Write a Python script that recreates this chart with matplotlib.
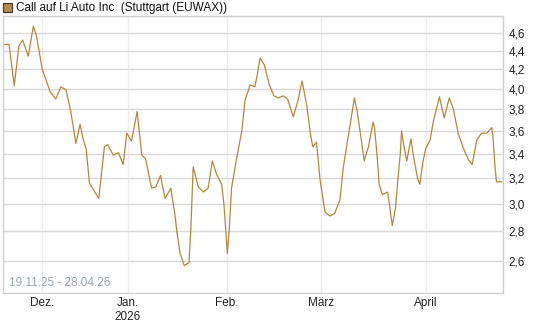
import matplotlib
matplotlib.use("Agg")
import matplotlib.pyplot as plt
from matplotlib.patches import Rectangle
from matplotlib.ticker import FixedLocator, NullLocator

plt.rcParams['font.family'] = ['Liberation Sans', 'DejaVu Sans']

# trading-day index (19.11.25 = 0) and price
days = [0.2, 1.3, 2.4, 3.4, 4.2, 5.4, 6.5, 7.2, 8.4, 10.1, 11.3, 12.4, 13.5, 14.5,
        15.6, 16.5, 17.2, 17.8, 18.5, 20.5, 21.7, 22.4, 23.6, 24.7, 25.7, 26.5,
        27.5, 28.7, 29.7, 30.5, 31.8, 32.7, 33.7, 34.7, 35.9, 36.8, 37.2, 37.9,
        38.8, 39.8, 40.2, 40.7, 41.8, 42.9, 43.9, 44.8, 45.7, 46.8, 47.3, 47.7,
        48.0, 48.4, 48.9, 50.0, 51.1, 51.8, 52.9, 53.9, 54.4, 55.0, 55.9, 57.0,
        58.0, 58.9, 60.0, 60.9, 62.1, 63.1, 64.0, 65.0, 65.8, 66.3, 67.1, 67.8,
        68.9, 70.0, 71.0, 72.1, 72.8, 73.6, 74.3, 75.2, 75.8, 76.5, 77.3, 78.2,
        79.2, 79.5, 80.0, 80.5, 81.2, 82.3, 82.8, 83.3, 84.0, 84.6, 85.0, 85.3,
        85.7, 86.4, 87.3, 87.8, 88.7, 89.2, 89.9, 90.5, 91.4, 92.1, 93.4, 94.4,
        95.5, 96.4, 97.4, 98.5, 99.6, 100.4, 101.4, 102.4, 103.5, 104.6, 104.8,
        105.3, 105.6, 106.7]
prices = [4.47, 4.47, 4.03, 4.45, 4.52, 4.34, 4.68, 4.56, 4.20, 3.97, 3.90, 4.02,
          3.99, 3.78, 3.49, 3.66, 3.52, 3.44, 3.16, 3.04, 3.46, 3.48, 3.39, 3.41,
          3.31, 3.58, 3.51, 3.78, 3.39, 3.36, 3.12, 3.13, 3.22, 3.04, 3.12, 2.92,
          2.80, 2.65, 2.57, 2.59, 2.82, 3.29, 3.13, 3.09, 3.12, 3.34, 3.23, 3.15,
          2.99, 2.79, 2.65, 2.80, 3.12, 3.36, 3.60, 3.89, 4.04, 4.02, 4.14, 4.32,
          4.25, 4.04, 3.93, 3.91, 3.93, 3.90, 3.73, 3.88, 4.08, 3.84, 3.57, 3.46,
          3.50, 3.20, 2.94, 2.91, 2.93, 3.03, 3.28, 3.48, 3.66, 3.91, 3.78, 3.57,
          3.34, 3.46, 3.68, 3.63, 3.41, 3.15, 3.07, 3.09, 2.97, 2.84, 2.97, 3.23,
          3.39, 3.60, 3.49, 3.34, 3.53, 3.39, 3.20, 3.15, 3.34, 3.45, 3.52, 3.69,
          3.92, 3.72, 3.91, 3.80, 3.58, 3.45, 3.35, 3.31, 3.52, 3.58, 3.58, 3.63,
          3.57, 3.29, 3.17, 3.17]

month_pos = [8.3, 26.7, 47.9, 68.0, 90.5]
month_labels = ['Dez.', 'Jan.\n2026', 'Feb.', 'März', 'April']
y_ticks = [2.6, 2.8, 3.0, 3.2, 3.4, 3.6, 3.8, 4.0, 4.2, 4.4, 4.6]
y_labels = [f"{v:.1f}".replace('.', ',') for v in y_ticks]

line_col = '#b8863b'

fig = plt.figure(figsize=(5.45, 3.27), dpi=100)
ax = fig.add_axes([3 / 545, 1 - 293 / 327, 500 / 545, 277 / 327])

ax.plot(days, prices, color=line_col, lw=0.9)
ax.set_yscale('log')
ax.set_ylim(2.40, 4.80)
ax.set_xlim(0, 107)

ax.yaxis.set_major_locator(FixedLocator(y_ticks))
ax.yaxis.set_minor_locator(NullLocator())
ax.set_yticklabels(y_labels)
ax.yaxis.tick_right()
ax.set_xticks(month_pos)
ax.set_xticklabels(month_labels)
ax.tick_params(axis='both', length=0, labelsize=8.5, colors='#222222')
ax.tick_params(axis='y', pad=4)
ax.tick_params(axis='x', pad=3)

ax.grid(axis='y', color='#d9d9d9', lw=1)
ax.grid(axis='x', color='#ececec', lw=1)
for s in ax.spines.values():
    s.set_color('#d0d0d0')
    s.set_linewidth(1)

ax.text(0.012, 0.015, '19.11.25 - 28.04.26', transform=ax.transAxes,
        fontsize=8.5, color='#9aa3b5', va='bottom', ha='left')

# title with colour box
fig.patches.append(Rectangle((3 / 545, 1 - 12 / 327), 9 / 545, 9 / 327,
                             transform=fig.transFigure, facecolor='#b58a4e',
                             edgecolor='#333333', lw=0.8))
fig.text(16 / 545, 1 - 7.5 / 327, 'Call auf Li Auto Inc  (Stuttgart (EUWAX))',
         fontsize=8.5, va='center', ha='left', color='#111111')

fig.savefig('out.png', dpi=100)
